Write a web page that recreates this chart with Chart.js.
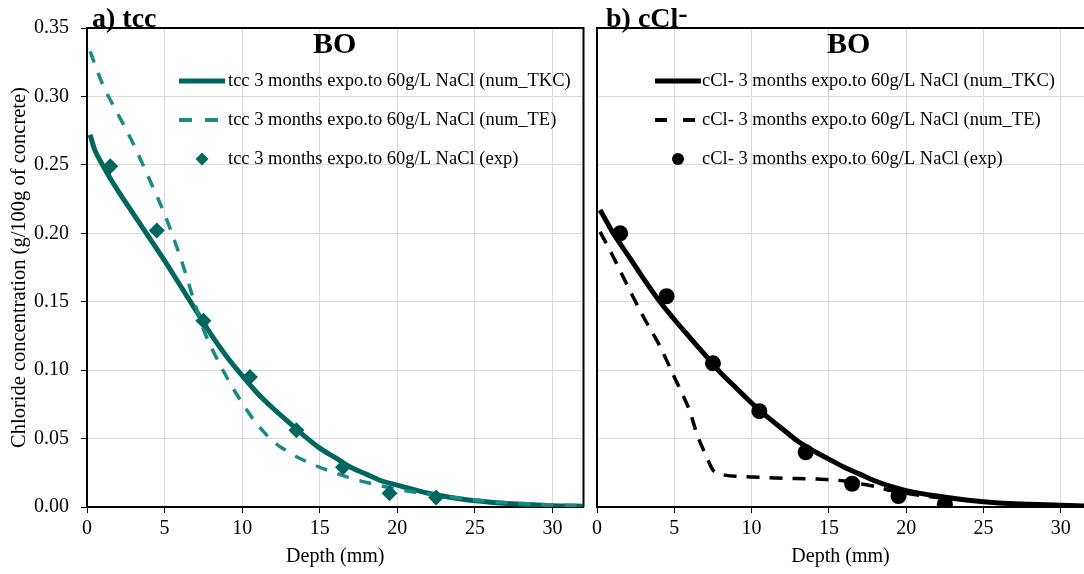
<!DOCTYPE html>
<html lang="en">
<head>
    <meta charset="UTF-8">
    <title>Chloride profiles BO</title>
    <script src="https://cdn.jsdelivr.net/npm/chart.js@4.4.0/dist/chart.umd.min.js"></script>
    <style>
        body { margin: 0; background: #fff; width: 1084px; height: 574px; position: relative; overflow: hidden;
               font-family: "Liberation Serif", "Times New Roman", serif; }
        canvas { position: absolute; top: 0; }
        #tccChart { left: 0; }
        #clChart { left: 588px; }
        .label { position: absolute; font-weight: bold; color: #000; line-height: 1; white-space: nowrap; }
        .panel { font-size: 28px; top: 4px; }
        .bo { font-size: 30px; top: 28px; }
        .sup { position: relative; top: -5px; }
    </style>
</head>
<body>
    <canvas id="tccChart" width="588" height="574"></canvas>
    <canvas id="clChart" width="496" height="574"></canvas>
    <div class="label panel" style="left:92px;">a) tcc</div>
    <div class="label panel" style="left:606px;">b) cCl<span class="sup">-</span></div>
    <div class="label bo" style="left:313px;">BO</div>
    <div class="label bo" style="left:827px;">BO</div>
    <script>
        // depth in mm, concentration in g/100g of concrete
        const expDepth = [1.5, 4.5, 7.5, 10.5, 13.5, 16.5, 19.5, 22.5];

        const tccExp = [0.249, 0.202, 0.136, 0.095, 0.056, 0.029, 0.010, 0.007];
        const tccDepthTKC = [0.2, 0.5, 1, 1.5, 2, 3, 4, 5, 6, 7, 8, 9, 10, 11, 12, 13, 14, 15, 16, 17, 18, 19, 20, 22, 24, 26, 28, 30, 32];
        const tccTKC = [0.272, 0.261, 0.250, 0.240, 0.231, 0.214, 0.197, 0.180, 0.162, 0.144, 0.126, 0.110, 0.096, 0.083, 0.072, 0.062, 0.052, 0.043, 0.036, 0.029, 0.024, 0.019, 0.016, 0.010, 0.006, 0.0035, 0.002, 0.001, 0.0005];
        const tccDepthTE = [0.2, 1, 2, 3, 4, 5, 6, 7, 7.5, 8, 9, 10, 11, 12, 13, 14, 15, 16, 17, 18, 20, 22, 24, 26, 28, 30, 32];
        const tccTE = [0.333, 0.309, 0.287, 0.265, 0.240, 0.214, 0.183, 0.147, 0.130, 0.117, 0.095, 0.076, 0.060, 0.048, 0.040, 0.034, 0.029, 0.025, 0.021, 0.018, 0.013, 0.0095, 0.0065, 0.004, 0.0025, 0.0015, 0.001];

        const clExp = [0.200, 0.154, 0.105, 0.070, 0.040, 0.017, 0.008, 0.002];
        const clDepthTKC = [0.2, 0.5, 1, 2, 3, 4, 5, 6, 7, 8, 9, 10, 11, 12, 13, 14, 15, 16, 17, 18, 19, 20, 22, 24, 26, 28, 30, 31.5];
        const clTKC = [0.217, 0.211, 0.201, 0.184, 0.167, 0.151, 0.137, 0.124, 0.111, 0.098, 0.087, 0.076, 0.066, 0.057, 0.048, 0.041, 0.035, 0.029, 0.024, 0.019, 0.015, 0.012, 0.008, 0.005, 0.003, 0.002, 0.0012, 0.0008];
        const clDepthTE = [0.2, 1, 2, 3, 4, 5, 5.5, 6, 6.5, 7, 7.5, 8, 10, 12, 14, 16, 17, 18, 19, 20, 22, 24, 26, 28, 30, 31.5];
        const clTE = [0.201, 0.184, 0.161, 0.139, 0.119, 0.095, 0.083, 0.070, 0.052, 0.039, 0.027, 0.024, 0.022, 0.021, 0.0205, 0.019, 0.017, 0.015, 0.012, 0.010, 0.007, 0.005, 0.003, 0.002, 0.0012, 0.0008];

        const xTicks = [0, 5, 10, 15, 20, 25, 30];
        const yTicks = [0, 0.05, 0.10, 0.15, 0.20, 0.25, 0.30, 0.35];

        const FONT = '"Liberation Serif", "Times New Roman", serif';
        const tealDark = '#00675f';
        const tealLight = '#1a8a84';

        const toPoints = (xs, ys) => xs.map((x, i) => ({ x: x, y: ys[i] }));

        // legend drawn inside the plot area
        const insideLegend = {
            id: 'insideLegend',
            afterDraw(chart, args, opts) {
                const ctx = chart.ctx;
                ctx.save();
                ctx.font = '18.5px ' + FONT;
                ctx.textBaseline = 'middle';
                opts.items.forEach((it, i) => {
                    const ds = chart.data.datasets[it.dataset];
                    const y = opts.y + i * opts.gap;
                    if (it.kind === 'line') {
                        ctx.strokeStyle = ds.borderColor;
                        ctx.lineWidth = it.width;
                        ctx.setLineDash(it.dash || []);
                        ctx.beginPath();
                        ctx.moveTo(opts.x, y);
                        ctx.lineTo(opts.x + opts.len, y);
                        ctx.stroke();
                        ctx.setLineDash([]);
                    } else {
                        ctx.fillStyle = ds.backgroundColor;
                        Chart.helpers.drawPoint(ctx, { pointStyle: ds.pointStyle, radius: it.radius, borderWidth: 0, rotation: 0 },
                            opts.x + opts.len / 2, y);
                    }
                    ctx.fillStyle = '#000';
                    ctx.fillText(ds.label, opts.textX, y);
                });
                ctx.restore();
            }
        };

        // top (and right) frame lines
        const frame = {
            id: 'frame',
            beforeDatasetsDraw(chart, args, opts) {
                const a = chart.chartArea;
                const ctx = chart.ctx;
                ctx.save();
                ctx.strokeStyle = '#000';
                ctx.lineWidth = 2;
                ctx.beginPath();
                ctx.moveTo(a.left, a.top);
                ctx.lineTo(a.right, a.top);
                if (opts.right) ctx.lineTo(a.right, a.bottom);
                ctx.stroke();
                ctx.restore();
            }
        };

        function makeChart(id, cfg) {
            return new Chart(document.getElementById(id), {
                type: 'scatter',
                data: {
                    datasets: [
                        {
                            label: cfg.prefix + ' 3 months expo.to 60g/L NaCl (exp)',
                            data: toPoints(expDepth, cfg.exp),
                            pointStyle: cfg.marker,
                            pointRadius: cfg.markerRadius,
                            backgroundColor: cfg.dark,
                            borderWidth: 0,
                            showLine: false
                        },
                        {
                            label: cfg.prefix + ' 3 months expo.to 60g/L NaCl (num_TE)',
                            data: toPoints(cfg.teDepth, cfg.te),
                            borderColor: cfg.light,
                            borderWidth: 3.5,
                            borderDash: cfg.dash,
                            pointRadius: 0,
                            showLine: true,
                            cubicInterpolationMode: 'monotone'
                        },
                        {
                            label: cfg.prefix + ' 3 months expo.to 60g/L NaCl (num_TKC)',
                            data: toPoints(cfg.tkcDepth, cfg.tkc),
                            borderColor: cfg.dark,
                            borderWidth: 5,
                            pointRadius: 0,
                            showLine: true,
                            cubicInterpolationMode: 'monotone'
                        }
                    ]
                },
                options: {
                    responsive: false,
                    animation: false,
                    layout: { padding: cfg.padding, autoPadding: false },
                    plugins: {
                        legend: { display: false },
                        tooltip: { enabled: false },
                        insideLegend: cfg.legend,
                        frame: { right: cfg.frameRight }
                    },
                    scales: {
                        x: {
                            type: 'linear',
                            min: 0,
                            max: cfg.xMax,
                            afterBuildTicks: s => { s.ticks = xTicks.map(v => ({ value: v })); },
                            afterFit: s => { s.height = 67; s.paddingLeft = 0; s.paddingRight = 0; },
                            ticks: { color: '#000', font: { family: FONT, size: 20 }, padding: 4, maxRotation: 0 },
                            grid: { color: '#d9d9d9', lineWidth: 1, tickColor: '#000', tickLength: 6 },
                            border: { color: '#000', width: 2 },
                            title: { display: true, text: 'Depth (mm)', color: '#000', font: { family: FONT, size: 20 }, padding: { top: 0, bottom: 5 } }
                        },
                        y: {
                            min: 0,
                            max: 0.35,
                            afterBuildTicks: s => { s.ticks = yTicks.map(v => ({ value: v })); },
                            afterFit: s => { s.width = cfg.yWidth; },
                            ticks: { display: cfg.yLabels, color: '#000', font: { family: FONT, size: 20 }, padding: 12,
                                     callback: v => v.toFixed(2) },
                            grid: { color: '#d9d9d9', lineWidth: 1, tickColor: '#000', tickLength: 6, drawTicks: cfg.yLabels },
                            border: { color: '#000', width: 2 },
                            title: { display: cfg.yLabels, text: 'Chloride concentration (g/100g of concrete)', color: '#000',
                                     font: { family: FONT, size: 20.5 }, padding: { top: 7, bottom: 0 } }
                        }
                    }
                },
                plugins: [insideLegend, frame]
            });
        }

        makeChart('tccChart', {
            prefix: 'tcc',
            exp: tccExp, tkcDepth: tccDepthTKC, tkc: tccTKC, teDepth: tccDepthTE, te: tccTE,
            dark: tealDark, light: tealLight, dash: [12, 11],
            marker: 'rectRot', markerRadius: 8,
            xMax: 32, yWidth: 87, yLabels: true, frameRight: true,
            padding: { top: 28, right: 4.5, left: 0, bottom: 0 },
            legend: {
                x: 179, len: 46, textX: 228, y: 81, gap: 39,
                items: [
                    { dataset: 2, kind: 'line', width: 5 },
                    { dataset: 1, kind: 'line', width: 4, dash: [13, 13] },
                    { dataset: 0, kind: 'point', radius: 6.5 }
                ]
            }
        });

        makeChart('clChart', {
            prefix: 'cCl-',
            exp: clExp, tkcDepth: clDepthTKC, tkc: clTKC, teDepth: clDepthTE, te: clTE,
            dark: '#000', light: '#000', dash: [13, 10],
            marker: 'circle', markerRadius: 8,
            xMax: 31.5, yWidth: 9, yLabels: false, frameRight: false,
            padding: { top: 28, right: 0, left: 0, bottom: 0 },
            legend: {
                x: 67, len: 46, textX: 114, y: 81, gap: 39,
                items: [
                    { dataset: 2, kind: 'line', width: 5 },
                    { dataset: 1, kind: 'line', width: 4, dash: [12, 16] },
                    { dataset: 0, kind: 'point', radius: 6 }
                ]
            }
        });
    </script>
</body>
</html>
